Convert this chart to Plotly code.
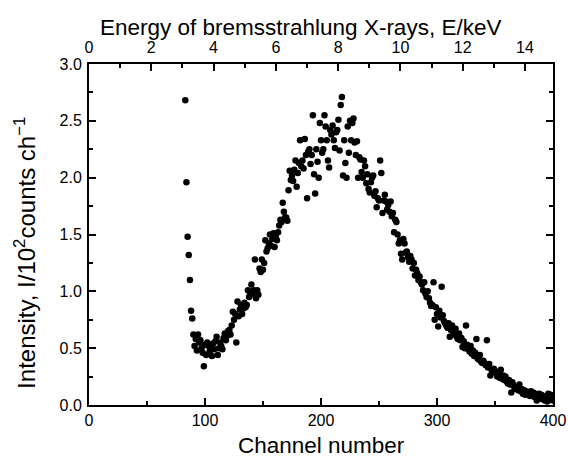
import plotly.graph_objects as go

channel_start = 83
intensity = [
    2.68, 1.96, 1.48, 1.32, 1.10, 0.83, 0.76,
    0.62, 0.52, 0.58, 0.48, 0.62, 0.55, 0.57, 0.50, 0.46, 0.34,
    0.53, 0.44, 0.55, 0.52, 0.47, 0.50, 0.43, 0.54, 0.49, 0.56,
    0.60, 0.44, 0.50, 0.55, 0.52, 0.49, 0.59, 0.63, 0.57, 0.61,
    0.65, 0.66, 0.62, 0.70, 0.82, 0.75, 0.80, 0.55, 0.91, 0.78,
    0.84, 0.88, 0.80, 0.85, 0.90, 0.86, 0.88, 1.01, 0.95, 0.97,
    1.06, 0.98, 1.01, 1.28, 0.94, 1.01, 0.97, 1.20, 1.17, 1.28,
    1.19, 1.25, 1.45, 1.35, 1.38, 1.42, 1.50, 1.40, 1.46, 1.51,
    1.39, 1.48, 1.45, 1.52, 1.58, 1.63, 1.61, 1.78, 1.70, 1.65,
    1.65, 1.62, 1.89, 2.06, 1.98, 2.02, 1.97, 2.07, 2.15, 1.92,
    2.04, 2.13, 2.33, 2.10, 2.15, 2.08, 2.34, 2.20, 1.82, 2.23,
    2.25, 2.12, 2.20, 2.55, 2.03, 1.86, 2.25, 2.14, 2.00, 2.48,
    2.33, 2.22, 2.25, 2.55, 2.45, 2.33, 2.15, 2.09, 2.42, 2.38,
    2.46, 2.33, 2.26, 2.40, 2.42, 2.51, 2.24, 2.64, 2.71, 2.02,
    2.33, 2.13, 2.00, 2.45, 2.22, 2.50, 2.33, 2.48, 2.52, 2.31,
    2.20, 2.32, 2.00, 2.18, 2.16, 2.05, 2.00, 2.15, 2.10, 1.95,
    2.03, 1.90, 1.87, 1.96, 2.00, 2.02, 1.84, 1.88, 1.74, 1.82,
    1.80, 2.15, 2.04, 1.69, 1.80, 1.85, 1.79, 1.72, 1.76, 1.70,
    1.79, 1.66, 1.69, 1.52, 1.63, 1.61, 1.50, 1.42, 1.45, 1.33,
    1.28, 1.46, 1.42, 1.34, 1.35, 1.30, 1.26, 1.31, 1.28, 1.20,
    1.25, 1.14, 1.19, 1.16, 1.10, 1.13, 1.08, 1.06, 1.01, 1.08,
    0.98, 0.95, 1.00, 0.94, 0.90, 0.87, 0.88, 1.08, 0.75, 0.86,
    0.80, 0.69, 0.83, 0.77, 1.04, 0.79, 0.74, 0.72, 0.70, 0.68,
    0.72, 0.60, 0.66, 0.70, 0.64, 0.62, 0.67, 0.60, 0.58, 0.63,
    0.57, 0.59, 0.51, 0.56, 0.50, 0.70, 0.53, 0.49, 0.47, 0.52,
    0.45, 0.48, 0.43, 0.46, 0.58, 0.41, 0.40, 0.44, 0.38, 0.37,
    0.39, 0.37, 0.35, 0.57, 0.33, 0.36, 0.26, 0.31, 0.29, 0.32,
    0.30, 0.28, 0.25, 0.27, 0.24, 0.31, 0.23, 0.26, 0.22, 0.25,
    0.21, 0.19, 0.22, 0.18, 0.11, 0.20, 0.17, 0.14, 0.16, 0.15,
    0.13, 0.18, 0.12, 0.14, 0.10, 0.13, 0.09, 0.12, 0.11, 0.10,
    0.08, 0.12, 0.09, 0.11, 0.07, 0.10, 0.04, 0.08, 0.10, 0.06,
    0.09, 0.05, 0.07, 0.04, 0.08, 0.03, 0.10, 0.06, 0.09, 0.05, 0.04,
]
channels = list(range(channel_start, channel_start + len(intensity)))

channel_range = [0, 400]
energy_range = [0, 14.9]
intensity_range = [0, 3.0]

x_title = "Channel number"
x2_title = "Energy of bremsstrahlung X-rays, E/keV"
y_title = "Intensity, I/10<sup>2</sup>counts ch<sup>−1</sup>"

font_family = "Liberation Sans, Arial, Helvetica, sans-serif"

fig = go.Figure()
fig.add_trace(go.Scatter(
    x=channels, y=intensity, mode="markers",
    marker=dict(color="black", size=6.5, line=dict(width=0)),
    showlegend=False,
))
fig.add_trace(go.Scatter(
    x=energy_range, y=[None, None], xaxis="x2", mode="markers",
    showlegend=False, hoverinfo="skip",
))

axis_common = dict(
    showline=True, linecolor="black", linewidth=2,
    ticks="inside", ticklen=7, tickwidth=1.5, tickcolor="black",
    showgrid=False, zeroline=False, automargin=False,
    tickfont=dict(size=16, color="black", family=font_family),
)
minor_common = dict(ticks="inside", ticklen=4, tickcolor="black", tickwidth=1.5)

title_font = dict(size=22.5, color="black", family=font_family)

fig.update_layout(
    width=568, height=465,
    margin=dict(l=89, r=15, t=64, b=60),
    paper_bgcolor="white", plot_bgcolor="white",
    font=dict(family=font_family, color="black"),
    xaxis=dict(
        range=channel_range, dtick=100, tick0=0,
        minor=dict(dtick=50, **minor_common),
        ticklabelstandoff=0,
        **axis_common,
    ),
    xaxis2=dict(
        range=energy_range, dtick=2, tick0=0, overlaying="x", side="top",
        minor=dict(dtick=1, **minor_common),
        ticklabelstandoff=3,
        **axis_common,
    ),
    yaxis=dict(
        range=intensity_range, dtick=0.5, tick0=0, tickformat=".1f",
        minor=dict(dtick=0.25, **minor_common),
        mirror="ticks",
        ticklabelstandoff=2,
        **axis_common,
    ),
    annotations=[
        dict(text=x_title, xref="paper", yref="paper", x=0.5, y=-0.12,
             xanchor="center", yanchor="middle", showarrow=False, font=title_font),
        dict(text=x2_title, xref="paper", yref="paper", x=0.455, y=1.108,
             xanchor="center", yanchor="middle", showarrow=False, font=title_font),
        dict(text=y_title, xref="paper", yref="paper", x=-0.138, y=0.446,
             xanchor="center", yanchor="middle", textangle=-90, showarrow=False,
             font=dict(size=24, color="black", family=font_family)),
    ],
)

fig.write_html(
    "out.html",
    config={"displayModeBar": False},
    post_script="document.body.style.margin='0';document.body.style.overflow='hidden';",
)
